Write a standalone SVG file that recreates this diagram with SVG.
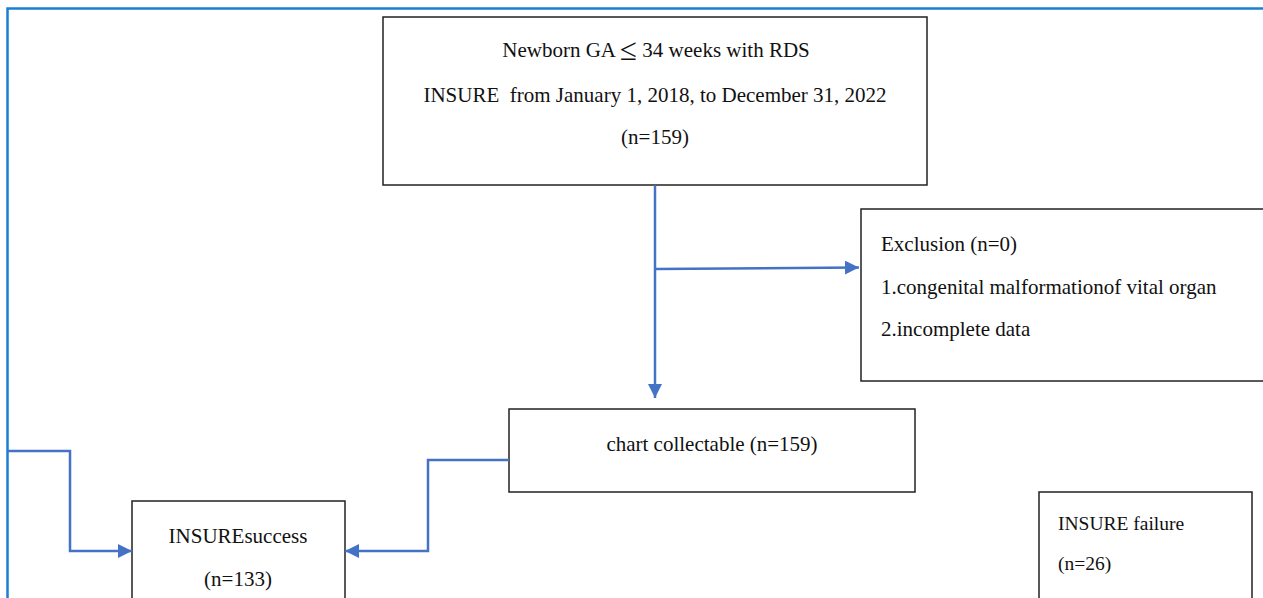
<svg xmlns="http://www.w3.org/2000/svg" width="1263" height="598" viewBox="0 0 1263 598">
<style>
.box{fill:#fff;stroke:#222;stroke-width:1.5}
.t{font-family:"Liberation Serif","Times New Roman",Times,serif;font-size:21px;fill:#111}
.s{font-size:19.5px}
.c{fill:none;stroke:#4472c4;stroke-width:2.5}
.m{text-anchor:middle}
</style>
<defs>
<marker id="ah" viewBox="0 0 10 10" refX="10" refY="5" markerWidth="5.6" markerHeight="5.6" markerUnits="strokeWidth" orient="auto">
<path d="M0,0 L10,5 L0,10 z" fill="#4472c4"/>
</marker>
</defs>
<rect width="1263" height="598" fill="#fff"/>
<path d="M7.5,610 L7.5,8.5 L1275,8.5" fill="none" stroke="#1a7fd4" stroke-width="2.5"/>
<g id="n-top">
<rect class="box" x="383" y="17" width="544" height="168"/>
<text class="t m" x="656" y="57">Newborn GA <tspan font-size="31" dy="3">≤</tspan><tspan dy="-3"> 34 weeks with RDS</tspan></text>
<text class="t m" x="655" y="102" xml:space="preserve">INSURE  from January 1, 2018, to December 31, 2022</text>
<text class="t m" x="655" y="144">(n=159)</text>
</g>
<g id="n-excl">
<rect class="box" x="861" y="209" width="410" height="172"/>
<text class="t" x="881" y="251">Exclusion (n=0)</text>
<text class="t" x="881" y="294">1.congenital malformationof vital organ</text>
<text class="t" x="881" y="336">2.incomplete data</text>
</g>
<g id="n-chart">
<rect class="box" x="509" y="409" width="406" height="83"/>
<text class="t m" x="712" y="451">chart collectable (n=159)</text>
</g>
<g id="n-success">
<rect class="box" x="132" y="501" width="213" height="110"/>
<text class="t m" x="238" y="543">INSUREsuccess</text>
<text class="t m" x="238" y="586">(n=133)</text>
</g>
<g id="n-fail">
<rect class="box" x="1039" y="492" width="213" height="120"/>
<text class="t s" x="1058" y="530">INSURE failure</text>
<text class="t s" x="1058" y="570">(n=26)</text>
</g>
<g id="connectors">
<path class="c" d="M655,185 L655,398" marker-end="url(#ah)"/>
<path class="c" d="M655,269 L859,267.5" marker-end="url(#ah)"/>
<path class="c" d="M509,460 L428,460 L428,551 L345,551" marker-end="url(#ah)"/>
<path class="c" d="M8,451 L70,451 L70,551 L132,551" marker-end="url(#ah)"/>
</g>
</svg>
